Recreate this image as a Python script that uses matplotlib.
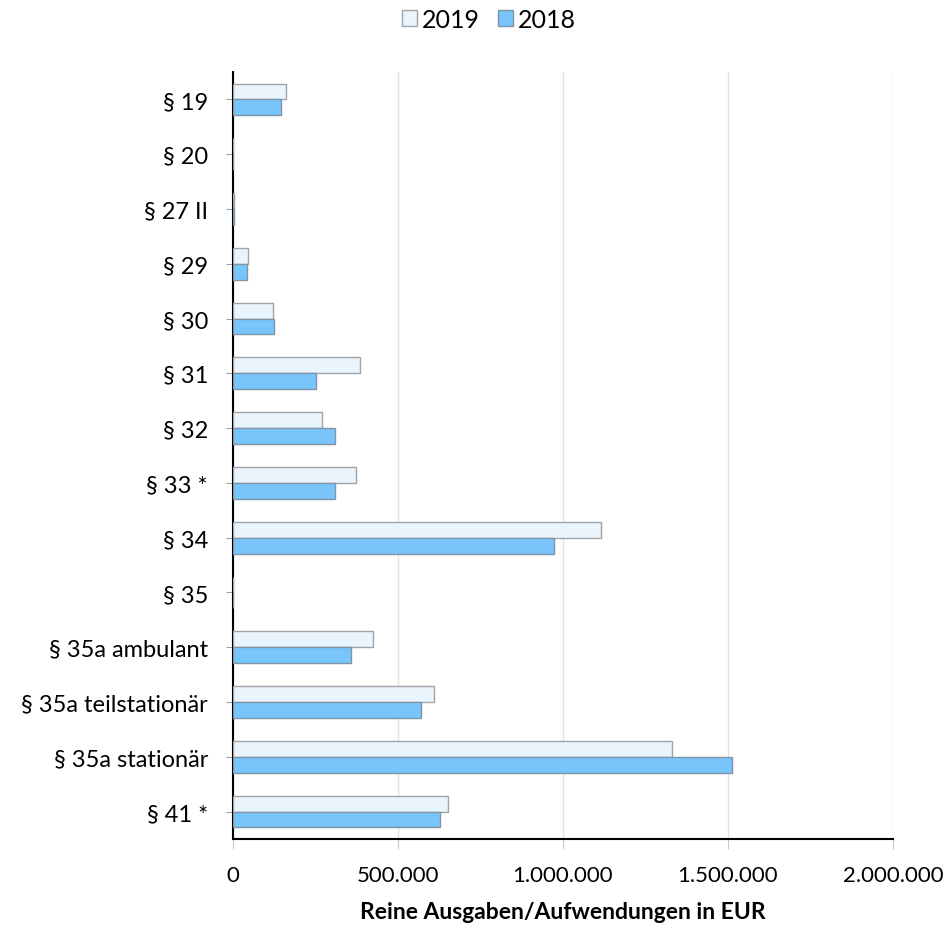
import matplotlib.pyplot as plt
import matplotlib.ticker as mticker
import numpy as np

categories = ['§ 19', '§ 20', '§ 27 II', '§ 29', '§ 30', '§ 31', '§ 32', '§ 33 *', '§ 34', '§ 35',
              '§ 35a ambulant', '§ 35a teilstationär', '§ 35a stationär', '§ 41 *']
values_2019 = [160000, 0, 3000, 44500, 122000, 384000, 270600, 371700, 1114000, 0,
               423000, 610000, 1331000, 652500]
values_2018 = [144500, 0, 3000, 41500, 125000, 252500, 310000, 310000, 973700, 0,
               356600, 568700, 1512000, 626000]
x_ticks = [0, 500000, 1000000, 1500000, 2000000]

plt.rcParams['font.family'] = ['Lato', 'DejaVu Sans']

fig = plt.figure(figsize=(9.49, 9.29), dpi=100)
ax = fig.add_axes([233 / 949, 1 - 840 / 929, 660 / 949, (840 - 73) / 929])

y = np.arange(len(categories))
h = 0.29
ax.barh(y - h / 2, values_2019, height=h, color='#EAF4FD', edgecolor='#A0A4A8', linewidth=1, label='2019', zorder=3)
ax.barh(y + h / 2, values_2018, height=h, color='#78C5FC', edgecolor='#8094A8', linewidth=1, label='2018', zorder=3)

ax.set_ylim(len(categories) - 0.5, -0.5)
ax.set_xlim(0, 2000000)
ax.set_yticks(y)
ax.set_yticklabels(categories)
ax.set_xticks(x_ticks)
ax.xaxis.set_major_formatter(mticker.FuncFormatter(lambda v, p: f'{int(v):,}'.replace(',', '.')))

ax.grid(axis='x', color='#E3E3E3', linewidth=1, zorder=0)
ax.spines['right'].set_visible(False)
ax.spines['top'].set_visible(False)
ax.spines['left'].set_color('black')
ax.spines['bottom'].set_color('black')
ax.spines['left'].set_linewidth(1.5)
ax.spines['bottom'].set_linewidth(1.5)
ax.tick_params(axis='y', length=5, color='#A0A0A0', labelsize=17, pad=13)
ax.tick_params(axis='x', length=7, color='#C8C8C8', labelsize=16, pad=12)

ax.set_xlabel('Reine Ausgaben/Aufwendungen in EUR', fontsize=16.5, fontweight='bold', labelpad=11)

ax.legend(loc='center', bbox_to_anchor=((489 - 233) / 660, (840 - 20) / 767), ncol=2,
          frameon=False, fontsize=18, handlelength=0.6, handleheight=0.6, handletextpad=0.2,
          columnspacing=0.7)

fig.savefig('out.png', dpi=100)
